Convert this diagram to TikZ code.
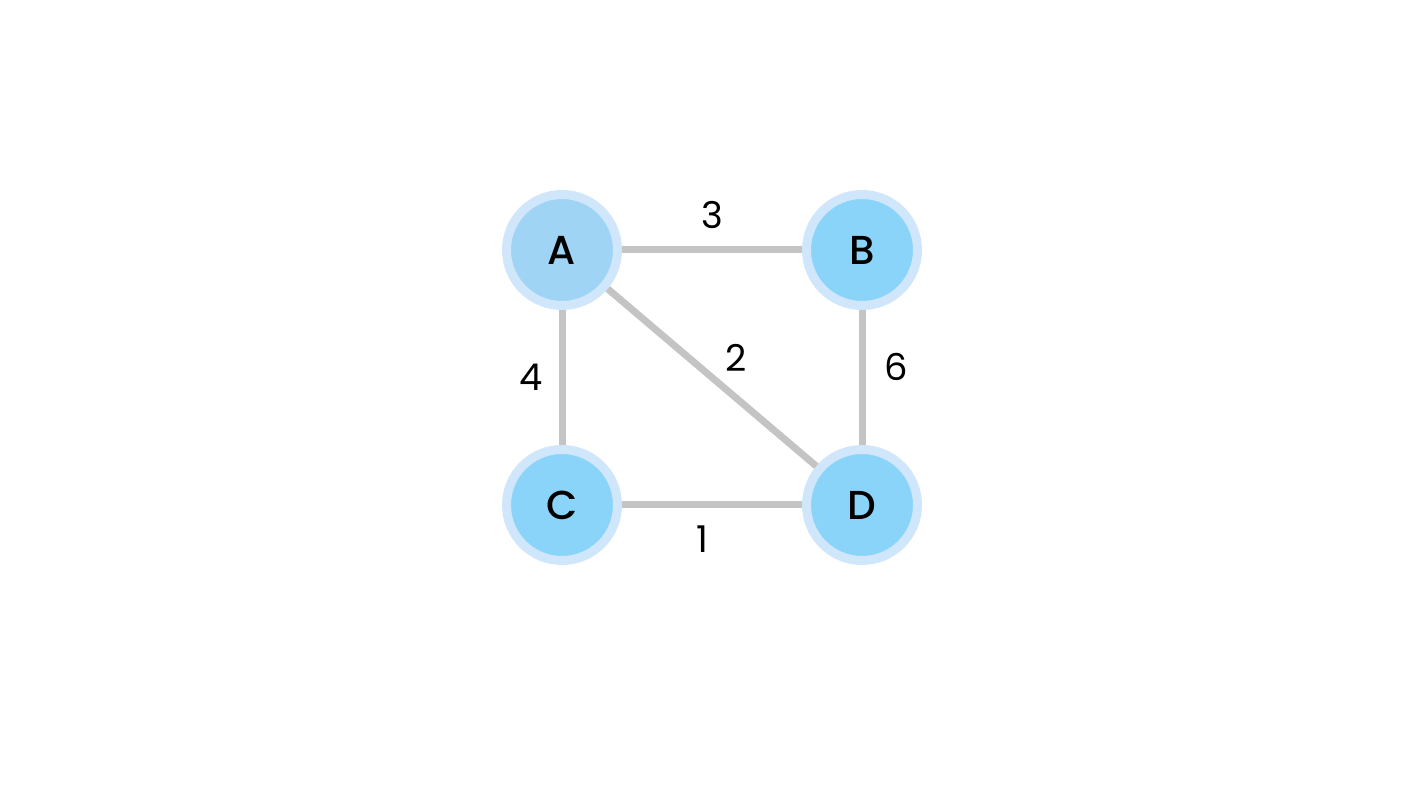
\documentclass[tikz,border=0pt]{standalone}
\usepackage{fontspec}
\setmainfont{Poppins}
\newfontfamily\vertexfont{Poppins Medium}
\usetikzlibrary{positioning}
\definecolor{RingBlue}{RGB}{208,230,250}
\definecolor{StartBlue}{RGB}{160,212,245}
\definecolor{NodeBlue}{RGB}{138,212,250}
\definecolor{EdgeGray}{RGB}{196,196,196}
\begin{document}
\begin{tikzpicture}[
  vertex/.style={circle,draw=RingBlue,fill=NodeBlue,line width=0.09cm,
                 minimum size=1.11cm,inner sep=0pt,font=\vertexfont\fontsize{11.5}{13}\selectfont},
  start/.style={vertex,fill=StartBlue},
  edge/.style={draw=EdgeGray,line width=0.07cm},
  weight/.style={font=\fontsize{10.5}{12}\selectfont},
]
\useasboundingbox (0,0) rectangle (14.26,8);
\node[start] (a) at (5.62,5.50) {A};
\node[vertex] (b) at (8.62,5.50) {B};
\node[vertex] (c) at (5.62,2.95) {C};
\node[vertex] (d) at (8.62,2.95) {D};
\draw[edge] (a) -- (b)
  node[midway,weight,yshift=0.35cm]{3};
\draw[edge] (a) -- (d)
  node[midway,weight,xshift=0.24cm,yshift=0.20cm]{2};
\draw[edge] (a) -- (c)
  node[midway,weight,xshift=-0.31cm]{4};
\draw[edge] (b) -- (d)
  node[midway,weight,xshift=0.34cm,yshift=0.11cm]{6};
\draw[edge] (c) -- (d)
  node[midway,weight,xshift=-0.10cm,yshift=-0.34cm]{1};
\end{tikzpicture}
\end{document}
